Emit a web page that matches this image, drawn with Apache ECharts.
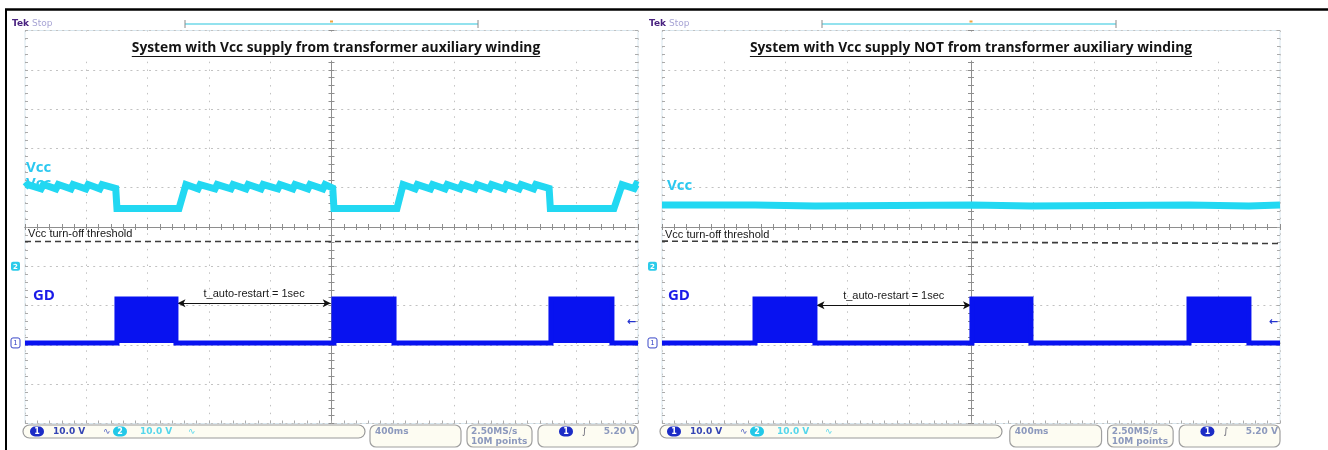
<!DOCTYPE html>
<html>
<head>
<meta charset="utf-8">
<script src="https://cdn.jsdelivr.net/npm/echarts@6/dist/echarts.min.js"></script>
<style>
  html, body { margin: 0; padding: 0; background: #ffffff; }
  #chart { width: 1328px; height: 450px; }
</style>
</head>
<body>
<div id="chart"></div>
<script>
// ---- Captured waveforms: time in ms (400 ms/div), amplitude in volts (10 V/div) ----

const panelTitles = [
  'System with Vcc supply from transformer auxiliary winding',
  'System with Vcc supply NOT from transformer auxiliary winding'
];

// Vcc (channel 2) when supplied from the auxiliary winding: sawtooth ripple, collapses during GD bursts
const vccAux = [
  [-2000, 20.2], [-1982, 20.8],
  [-1895, 19.7], [-1880, 20.8],
  [-1798, 19.7], [-1783, 20.8],
  [-1700, 19.7], [-1686, 20.8],
  [-1603, 19.7], [-1588, 20.8],
  [-1512, 19.7], [-1497, 20.8],
  [-1408, 19.8], [-1400, 14.7],
  [-995, 14.7], [-950, 20.8],
  [-871, 19.7], [-857, 20.8],
  [-760, 19.7], [-746, 20.8],
  [-656, 19.7], [-642, 20.8],
  [-558, 19.7], [-544, 20.8],
  [-460, 19.7], [-446, 20.8],
  [-350, 19.7], [-336, 20.8],
  [-252, 19.7], [-238, 20.8],
  [-154, 19.7], [-140, 20.8],
  [-56, 19.7], [-42, 20.8],
  [8, 19.9], [16, 14.7],
  [427, 14.7], [467, 20.8],
  [546, 19.7], [560, 20.8],
  [646, 19.7], [660, 20.8],
  [741, 19.7], [755, 20.8],
  [838, 19.7], [852, 20.8],
  [936, 19.7], [950, 20.8],
  [1031, 19.7], [1045, 20.8],
  [1128, 19.7], [1142, 20.8],
  [1224, 19.7], [1238, 20.8],
  [1319, 19.7], [1333, 20.8],
  [1420, 19.8], [1428, 14.7],
  [1843, 14.7], [1896, 20.8],
  [1975, 19.8], [1988, 20.8], [2000, 20.6]
];

// GD (channel 1) with auxiliary-winding supply: switching bursts between 0 V and the drive level
const gdAux = [
  [-2000, 0], [-1400, 0], [-1400, 11.2], [-1015, 11.2], [-1015, 0],
  [16, 0], [16, 11.2], [408, 11.2], [408, 0],
  [1432, 0], [1432, 11.2], [1830, 11.2], [1830, 0], [2000, 0]
];

// Vcc with external supply: flat, dipping slightly while GD is switching
const vccExt = [
  [-2000, 15.6], [-1398, 15.6], [-1392, 15.35], [-1010, 15.35], [-1004, 15.6],
  [6, 15.6], [12, 15.35], [388, 15.35], [394, 15.6],
  [1411, 15.6], [1417, 15.35], [1799, 15.35], [1805, 15.6], [2000, 15.6]
];

// GD with external supply
const gdExt = [
  [-2000, 0], [-1398, 0], [-1398, 11.2], [-1010, 11.2], [-1010, 0],
  [6, 0], [6, 11.2], [388, 11.2], [388, 0],
  [1411, 0], [1411, 11.2], [1799, 11.2], [1799, 0], [2000, 0]
];

// Vcc turn-off threshold reference (volts on channel 2)
const thresholdAux = [[-2000, 6.3], [2000, 6.3]];
const thresholdExt = [[-2000, 6.4], [2000, 5.8]];

// Auto-restart interval: burst end -> next burst start (ms), and the level the arrow is drawn at (V, ch1)
const restartAux = [-1005, -5];
const restartExt = [-1000, 0];
const restartArrowLevel = [10.1, 9.6];
const restartLabel = 't_auto-restart = 1sec';

// Scope readouts
const chScale = ['10.0 V', '10.0 V'];
const timebase = '400ms';
const sampleRate = ['2.50MS/s', '10M points'];
const triggerLevel = 5.20;            // volts, channel 1
const triggerText = '5.20 V';

// ---- Layout ----
const PANEL_LEFT = [25, 662];
const PANEL_WIDTH = [613, 618];
const PLOT_TOP = 30.5;
const PLOT_HEIGHT = 393;

const CYAN = '#22d8f2';
const BLUE = '#0812f0';
const GRID_DOT = '#c2c2c2';
const CROSS = '#8e8e8e';

const vccData = [vccAux, vccExt];
const gdData = [gdAux, gdExt];
const thrData = [thresholdAux, thresholdExt];
const restartData = [restartAux, restartExt];

const grids = [], xAxes = [], yAxes = [], series = [];

for (let g = 0; g < 2; g++) {
  grids.push({
    left: PANEL_LEFT[g], top: PLOT_TOP, width: PANEL_WIDTH[g], height: PLOT_HEIGHT,
    show: true, borderColor: '#d8e6ee', borderWidth: 1, backgroundColor: 'transparent',
    containLabel: false
  });

  const xb = g * 3, yb = g * 6;
  const xBase = { gridIndex: g, type: 'value', min: -2000, max: 2000, interval: 400, axisLabel: { show: false } };
  const tickStyle = { color: '#ababab', width: 1 };
  // graticule columns + bottom edge ticks
  xAxes.push(Object.assign({}, xBase, {
    position: 'bottom',
    axisLine: { show: false, onZero: false },
    axisTick: { show: true, inside: true, length: 3, lineStyle: tickStyle },
    minorTick: { show: true, splitNumber: 5, length: 3, lineStyle: tickStyle },
    splitLine: { show: true, lineStyle: { color: GRID_DOT, width: 1, type: [1.5, 6.3] } }
  }));
  // centre horizontal line, ticks on both sides
  [true, false].forEach(function (inside) {
    xAxes.push(Object.assign({}, xBase, {
      position: 'bottom',
      axisLine: { show: true, onZero: true, onZeroAxisIndex: yb, lineStyle: { color: CROSS, width: 1 } },
      axisTick: { show: true, inside: inside, length: 3, lineStyle: { color: CROSS } },
      minorTick: { show: true, splitNumber: 5, length: 3, lineStyle: { color: CROSS } },
      splitLine: { show: false }
    }));
  });

  const yBase = { gridIndex: g, type: 'value', min: -5, max: 5, interval: 1, axisLabel: { show: false } };
  // graticule rows + left edge ticks
  yAxes.push(Object.assign({}, yBase, {
    position: 'left',
    axisLine: { show: false, onZero: false },
    axisTick: { show: true, inside: true, length: 3, lineStyle: tickStyle },
    minorTick: { show: true, splitNumber: 5, length: 3, lineStyle: tickStyle },
    splitLine: { show: true, lineStyle: { color: GRID_DOT, width: 1, type: [2, 4.2] } }
  }));
  // right edge ticks
  yAxes.push(Object.assign({}, yBase, {
    position: 'right',
    axisLine: { show: false, onZero: false },
    axisTick: { show: true, inside: true, length: 3, lineStyle: tickStyle },
    minorTick: { show: true, splitNumber: 5, length: 3, lineStyle: tickStyle },
    splitLine: { show: false }
  }));
  // centre vertical line, ticks on both sides
  [true, false].forEach(function (inside) {
    yAxes.push(Object.assign({}, yBase, {
      position: 'left',
      axisLine: { show: true, onZero: true, onZeroAxisIndex: xb, lineStyle: { color: CROSS, width: 1 } },
      axisTick: { show: true, inside: inside, length: 3, lineStyle: { color: CROSS } },
      minorTick: { show: true, splitNumber: 5, length: 3, lineStyle: { color: CROSS } },
      splitLine: { show: false }
    }));
  });
  // channel 1 (GD): 10 V/div, ground 2.95 div below centre
  yAxes.push({ gridIndex: g, type: 'value', min: -20.5, max: 79.5, show: false, axisLine: { onZero: false } });
  // channel 2 (Vcc): 10 V/div, ground 1 div below centre
  yAxes.push({ gridIndex: g, type: 'value', min: -40, max: 60, show: false, axisLine: { onZero: false } });

  series.push({
    type: 'line', xAxisIndex: xb, yAxisIndex: yb + 5, data: thrData[g],
    showSymbol: false, silent: true, z: 3,
    lineStyle: { color: '#3c3c3c', width: 1.6, type: [6, 4] }
  });
  series.push({
    type: 'line', xAxisIndex: xb, yAxisIndex: yb + 5, data: vccData[g],
    showSymbol: false, silent: true, z: 4,
    lineStyle: { color: CYAN, width: 7, join: 'miter' }
  });
  series.push({
    type: 'line', xAxisIndex: xb, yAxisIndex: yb + 4, data: gdData[g],
    showSymbol: false, silent: true, z: 5,
    lineStyle: { color: BLUE, width: 5, join: 'miter' },
    areaStyle: { color: BLUE, opacity: 1, origin: 'auto' },
    markLine: {
      silent: true, animation: false,
      symbol: ['arrow', 'arrow'], symbolSize: [6, 8],
      lineStyle: { color: '#111111', width: 1, type: 'solid' },
      label: {
        show: true, position: 'middle', formatter: restartLabel, distance: 4,
        color: '#1a1a1a', fontFamily: 'Liberation Sans', fontSize: 11
      },
      data: [[
        { coord: [restartData[g][0], restartArrowLevel[g]] },
        { coord: [restartData[g][1], restartArrowLevel[g]] }
      ]]
    }
  });
}

const chart = echarts.init(document.getElementById('chart'), null, { renderer: 'canvas' });
chart.setOption({
  animation: false,
  backgroundColor: '#ffffff',
  grid: grids,
  xAxis: xAxes,
  yAxis: yAxes,
  series: series
});

// ---- Screen furniture and annotations ----
const measure = document.createElement('canvas').getContext('2d');
function textWidth(str, font) { measure.font = font; return measure.measureText(str).width; }

const gfx = [];
function txt(x, y, text, o) {
  gfx.push({
    type: 'text', x: x, y: y, z: (o && o.z != null) ? o.z : 20, zlevel: (o && o.zlevel) || 0,
    style: Object.assign({
      text: text, fill: '#000', fontFamily: 'Liberation Sans', fontSize: 11,
      textAlign: 'left', textVerticalAlign: 'middle'
    }, o && o.style)
  });
}
function line(x1, y1, x2, y2, stroke, w, z, zlevel) {
  gfx.push({ type: 'line', z: z || 20, zlevel: zlevel || 0, shape: { x1: x1, y1: y1, x2: x2, y2: y2 }, style: { stroke: stroke, lineWidth: w } });
}
function box(x, y, w, h, r, fill, stroke) {
  gfx.push({ type: 'rect', z: 20, shape: { x: x, y: y, width: w, height: h, r: r }, style: { fill: fill, stroke: stroke, lineWidth: 1.2 } });
}
function badge(cx, cy, label, fill) {
  gfx.push({ type: 'rect', z: 21, shape: { x: cx - 7, y: cy - 5, width: 14, height: 10, r: 5 }, style: { fill: fill } });
  txt(cx, cy + 0.5, label, { z: 22, style: { fill: '#fff', fontFamily: 'DejaVu Sans', fontWeight: 'bold', fontSize: 8, textAlign: 'center' } });
}

// outer frame
line(5, 9.5, 1328, 9.5, '#000', 2.5, 30);
line(6, 9, 6, 450, '#000', 2, 30);

const TITLE_SIZE = 13.8;
const titleFont = 'bold ' + TITLE_SIZE + 'px "Open Sans"';
const titleX = [336, 971];
const recordBar = [[185, 478], [822, 1116]];

for (let g = 0; g < 2; g++) {
  const L = PANEL_LEFT[g], W = PANEL_WIDTH[g], s = W / 613;
  const cx = L + W / 2;

  // status line
  txt(L - 13, 24, 'Tek', { style: { fill: '#4a2380', fontFamily: 'DejaVu Sans', fontWeight: 'bold', fontSize: 9 } });
  txt(L + 7, 24, 'Stop', { style: { fill: '#a7a4d4', fontFamily: 'DejaVu Sans', fontSize: 9 } });
  line(recordBar[g][0], 24, recordBar[g][1], 24, '#93e2ee', 2);
  line(recordBar[g][0], 20, recordBar[g][0], 28, '#8a8a8a', 1);
  line(recordBar[g][1], 20, recordBar[g][1], 28, '#8a8a8a', 1);
  line(cx - 1.5, 21.5, cx + 1.5, 21.5, '#f0a43c', 2);

  // title box on its own layer (opaque, hides the top strip of the graticule) with underlined caption
  gfx.push({ type: 'rect', zlevel: 1, z: 1, shape: { x: L + 4, y: 31.5, width: W - 8, height: 29 }, style: { fill: '#ffffff' } });
  const tw = textWidth(panelTitles[g], titleFont);
  txt(titleX[g], 48, panelTitles[g], { zlevel: 1, z: 5, style: { fontFamily: 'Open Sans', fontWeight: 'bold', fontSize: TITLE_SIZE, fill: '#141414', textAlign: 'center' } });
  line(titleX[g] - tw / 2, 56.5, titleX[g] + tw / 2, 56.5, '#141414', 1.2, 5, 1);

  // trace labels
  if (g === 0) {
    txt(L + 1, 168, 'Vcc', { style: { fontFamily: 'Open Sans', fontWeight: 'bold', fontSize: 15, fill: '#2bc8f0' } });
    txt(L + 1, 184, 'Vcc', { z: 1, style: { fontFamily: 'Open Sans', fontWeight: 'bold', fontSize: 15, fill: '#2bc8f0' } });
  } else {
    txt(L + 5, 186, 'Vcc', { style: { fontFamily: 'Open Sans', fontWeight: 'bold', fontSize: 15, fill: '#2bc8f0' } });
  }
  txt(L + (g === 0 ? 8 : 6), 295.5, 'GD', { style: { fontFamily: 'Open Sans', fontWeight: 'bold', fontSize: 15, fill: '#1a1ae8' } });
  txt(L + 3, 234 + g, 'Vcc turn-off threshold', { style: { fontFamily: 'Liberation Sans', fontSize: 11, fill: '#151515' } });

  // channel ground markers and trigger level, placed on the channel axes
  const vccGround = chart.convertToPixel({ seriesIndex: g * 3 + 1 }, [-2000, 0]);
  const gdGround = chart.convertToPixel({ seriesIndex: g * 3 + 2 }, [-2000, 0]);
  const trig = chart.convertToPixel({ seriesIndex: g * 3 + 2 }, [2000, triggerLevel]);
  gfx.push({ type: 'rect', z: 21, shape: { x: vccGround[0] - 14, y: vccGround[1] - 4.5, width: 9, height: 9, r: 2 }, style: { fill: '#2ccbea' } });
  txt(vccGround[0] - 9.5, vccGround[1] + 0.5, '2', { z: 22, style: { fill: '#fff', fontFamily: 'DejaVu Sans', fontWeight: 'bold', fontSize: 7, textAlign: 'center' } });
  gfx.push({ type: 'rect', z: 21, shape: { x: gdGround[0] - 14, y: gdGround[1] - 5, width: 9, height: 10, r: 2 }, style: { fill: '#fff', stroke: '#3a48c8', lineWidth: 1 } });
  txt(gdGround[0] - 9.5, gdGround[1] + 0.5, '1', { z: 22, style: { fill: '#3a48c8', fontFamily: 'DejaVu Sans', fontSize: 7, textAlign: 'center' } });
  txt(trig[0] - 2, trig[1], '\u2190', { z: 22, style: { fill: '#2433d0', fontFamily: 'DejaVu Sans', fontWeight: 'bold', fontSize: 11, textAlign: 'right' } });

  // readout bar
  const by = 425;
  box(L - 2, by, 342, 13, 6.5, '#fdfcf2', '#9a9a9a');
  box(L + 345 * s, by, 91 * s, 22, 6, '#fdfcf2', '#a0a0a0');
  box(L + 442 * s, by, 65 * s, 22, 6, '#fdfcf2', '#a0a0a0');
  box(L + 513 * s, by, 100 * s, 22, 6, '#fdfcf2', '#a0a0a0');

  const ro = { fontFamily: 'DejaVu Sans', fontWeight: 'bold', fontSize: 9 };
  badge(L + 12, by + 6.5, '1', '#1c2cc6');
  txt(L + 28, by + 6.5, chScale[0], { style: Object.assign({ fill: '#3444b4' }, ro) });
  txt(L + 78, by + 6.5, '\u223F', { style: { fill: '#5060c0', fontFamily: 'DejaVu Sans', fontSize: 9 } });
  badge(L + 95, by + 6.5, '2', '#22c8e8');
  txt(L + 115, by + 6.5, chScale[1], { style: Object.assign({ fill: '#55d6ec' }, ro) });
  txt(L + 163, by + 6.5, '\u223F', { style: { fill: '#55d6ec', fontFamily: 'DejaVu Sans', fontSize: 9 } });

  const grey = { fill: '#8c99bd', fontFamily: 'DejaVu Sans', fontWeight: 'bold', fontSize: 9 };
  txt(L + 350 * s, by + 6.5, timebase, { style: grey });
  txt(L + 446 * s, by + 6.5, sampleRate[0], { style: grey });
  txt(L + 446 * s, by + 17, sampleRate[1], { style: grey });
  badge(L + 541 * s, by + 6.5, '1', '#1c2cc6');
  txt(L + 557 * s, by + 6.5, '\u222B', { style: { fill: '#5a5a6a', fontFamily: 'DejaVu Sans', fontSize: 9 } });
  txt(L + 611 * s, by + 6.5, triggerText, { style: Object.assign({}, grey, { textAlign: 'right' }) });
}

chart.setOption({ graphic: { elements: gfx } });
</script>
</body>
</html>
